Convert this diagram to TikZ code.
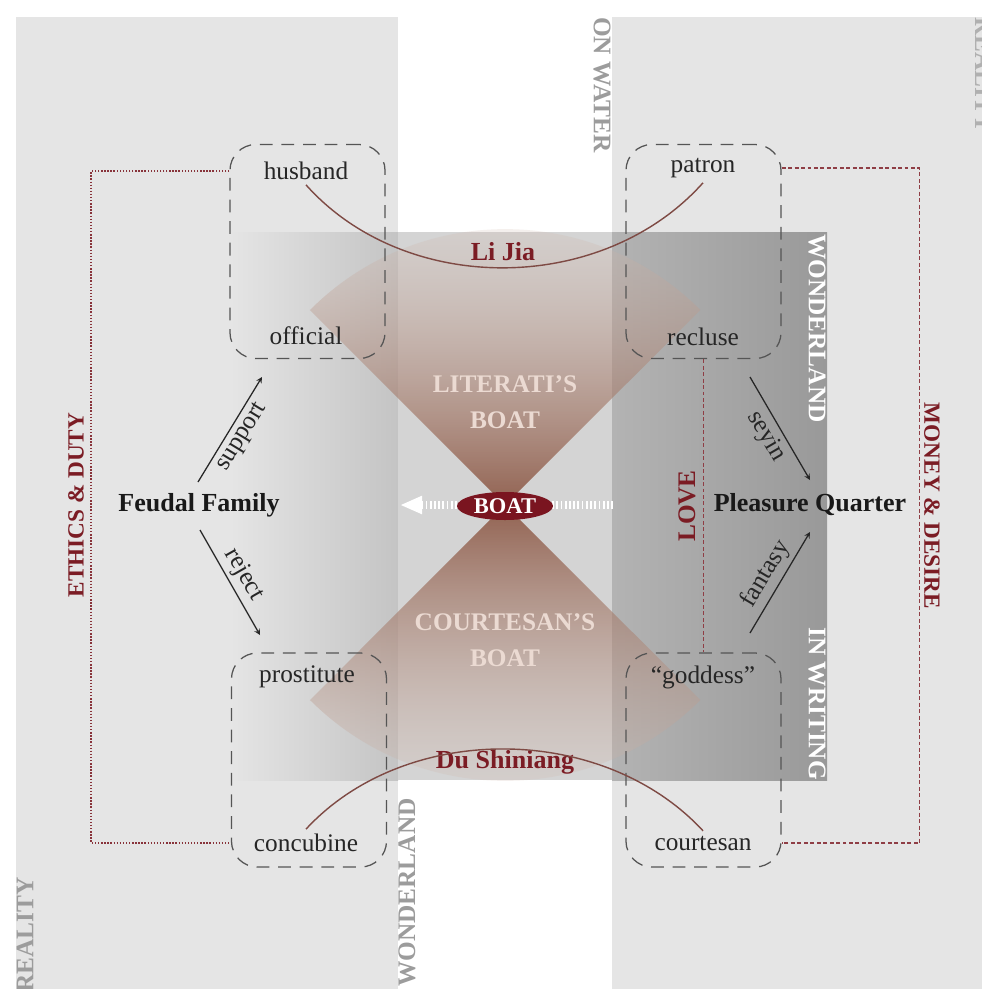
\documentclass[tikz,border=0pt]{standalone}
\usepackage{fontspec}
\setmainfont{Liberation Serif}
\usetikzlibrary{shapes.geometric, arrows, arrows.meta, fadings}

\definecolor{bandgray}{HTML}{E5E5E5}
\definecolor{labelgray}{HTML}{9C9C9C}
\definecolor{darkred}{HTML}{7B1C24}
\definecolor{boatred}{HTML}{7A1520}
\definecolor{fanlight}{HTML}{D8C4BA}
\definecolor{fandark}{HTML}{8A5542}
\definecolor{fantext}{HTML}{EBDAD2}
\definecolor{curvebrown}{HTML}{7E4A44}
\definecolor{boxgray}{HTML}{555555}
\definecolor{panelleft}{HTML}{C4C4C4}
\definecolor{panelmid}{HTML}{D4D4D4}
\definecolor{panelright}{HTML}{B3B3B3}
\definecolor{paneldeep}{HTML}{999999}

\tikzfading[name=fan top, top color=transparent!85, bottom color=transparent!10]
\tikzfading[name=fan bottom, top color=transparent!10, bottom color=transparent!85]

\tikzstyle{word} = [font=\fontsize{18}{22}\selectfont, text=black!85]
\tikzstyle{hub} = [font=\fontsize{18.5}{22}\selectfont\bfseries, text=black!90]
\tikzstyle{boatname} = [font=\fontsize{18}{26}\selectfont\bfseries, text=fantext, align=center]
\tikzstyle{pairbox} = [rectangle, rounded corners=0.65cm, minimum width=3.875cm, minimum height=5.35cm, draw=boxgray, line width=0.9pt, dash pattern=on 0.32cm off 0.22cm]
\tikzstyle{vlabel} = [font=\fontsize{18}{22}\selectfont\bfseries, inner sep=0pt]
\tikzstyle{arrow} = [line width=0.9pt, ->, >=stealth, black!85]
\tikzstyle{tag} = [font=\fontsize{18}{22}\selectfont, inner sep=3pt, sloped, midway]
\tikzstyle{ethicsline} = [darkred!90, line width=1.4pt, dash pattern=on 1pt off 1.2pt]
\tikzstyle{redline} = [darkred!85, line width=1pt, dash pattern=on 2.8pt off 1.8pt]
\tikzstyle{boatarrow} = [white, line width=0.19cm, dash pattern=on 1.3pt off 1.7pt, -{Triangle[length=0.55cm, width=0.42cm]}]

\begin{document}
\begin{tikzpicture}[x=0.025cm, y=-0.025cm]
    \useasboundingbox (0,0) rectangle (982,989);
    \clip (0,0) rectangle (982,989);

    % Backdrop: reality on both sides, water in the middle
    \fill[white] (0,0) rectangle (982,989);
    \fill[bandgray] (16,17) rectangle (398,989);
    \fill[bandgray] (612,17) rectangle (982,989);

    % Wonderland panel
    \shade[left color=bandgray, right color=panelleft] (230,232) rectangle (398,780);
    \fill[panelmid] (398,232) rectangle (612,780);
    \shade[left color=panelright, right color=paneldeep] (612,232) rectangle (827,780);

    % The two boats
    \shade[top color=fanlight, bottom color=fandark, path fading=fan top] (505,505) -- (310,310) arc[start angle=135, end angle=45, radius=6.9cm] -- cycle;
    \shade[top color=fandark, bottom color=fanlight, path fading=fan bottom] (505,505) -- (310,700) arc[start angle=225, end angle=315, radius=6.9cm] -- cycle;

    % Nodes
    \node (husband) [word] at (306,171) {husband};
    \node (official) [word] at (306,336) {official};
    \node (patron) [word] at (703,168) {patron};
    \node (recluse) [word] at (703,337) {recluse};
    \node (prostitute) [word] at (307,677) {prostitute};
    \node (concubine) [word] at (306,843) {concubine};
    \node (goddess) [word] at (703,677) {``goddess''};
    \node (courtesan) [word] at (703,843) {courtesan};

    \node (family) [hub] at (199,505) {Feudal Family};
    \node (quarter) [hub] at (810,505) {Pleasure Quarter};
    \node (lijia) [hub, text=darkred] at (503,252) {Li Jia};
    \node (dushiniang) [hub, text=darkred] at (505,762) {Du Shiniang};

    \node (literati) [boatname] at (505,402) {LITERATI’S\\BOAT};
    \node (courtesans) [boatname] at (505,640) {COURTESAN’S\\BOAT};

    \node (husband box) [pairbox] at (307.5,251.5) {};
    \node (patron box) [pairbox] at (703.5,251.5) {};
    \node (concubine box) [pairbox] at (309,760) {};
    \node (courtesan box) [pairbox] at (703.5,760) {};

    % Side labels
    \node (water) [vlabel, text=labelgray, rotate=-90, anchor=west] at (602,17) {ON WATER};
    \node (reality top) [vlabel, text=labelgray!80, rotate=-90, anchor=base west] at (975,17) {REALITY};
    \node (reality low) [vlabel, text=labelgray, rotate=90, anchor=west] at (25,993) {REALITY};
    \node (wonder low) [vlabel, text=labelgray, rotate=90, anchor=west] at (407,987) {WONDERLAND};
    \node (wonder) [vlabel, text=white, rotate=-90, anchor=west] at (817,234) {WONDERLAND};
    \node (writing) [vlabel, text=white, rotate=-90, anchor=west] at (817,627) {IN WRITING};
    \node (ethics) [vlabel, text=darkred, font=\fontsize{16.5}{20}\selectfont\bfseries, rotate=90] at (76,505) {ETHICS \& DUTY};
    \node (money) [vlabel, text=darkred, font=\fontsize{16.5}{20}\selectfont\bfseries, rotate=-90] at (932,506) {MONEY \& DESIRE};
    \node (love) [vlabel, text=darkred, rotate=90] at (687,506) {LOVE};

    % Couples
    \draw[curvebrown, line width=1pt] (husband.south) .. controls +(100,112) and +(-100,112) .. (patron.south);
    \draw[curvebrown, line width=1pt] (concubine.north) .. controls +(100,-108) and +(-100,-108) .. (courtesan.north);

    % Frames round the pairs
    \draw[ethicsline] (husband box.west |- husband) -- ++(-138,0) |- (concubine box.west |- concubine);
    \draw[redline] (patron box.east |- patron) -- ++(138,0) |- (courtesan box.east |- courtesan);
    \draw[redline] (patron box.south) -- (courtesan box.north);

    % Arrows
    \coordinate (support tail) at (198,482);
    \coordinate (support head) at (262,377);
    \coordinate (reject tail) at (200,530);
    \coordinate (reject head) at (260,635);
    \coordinate (seyin tail) at (750,377);
    \coordinate (seyin head) at (810,480);
    \coordinate (fantasy tail) at (750,633);
    \coordinate (fantasy head) at (810,532);
    \draw [arrow] (support tail) -- node[tag, below] {support} (support head);
    \draw [arrow] (reject tail) -- node[tag, above] {reject} (reject head);
    \draw [arrow] (seyin tail) -- node[tag, below] {seyin} (seyin head);
    \draw [arrow] (fantasy tail) -- node[tag, above] {fantasy} (fantasy head);

    % Boat crossing
    \coordinate (boat tail) at (613,505);
    \coordinate (boat head) at (400,505);
    \draw [boatarrow] (boat tail) -- (boat head);
    \node (boat) [ellipse, fill=boatred, text=white, font=\fontsize{16}{18}\selectfont\bfseries, minimum width=2.4cm, minimum height=0.7cm, inner sep=0pt] at (505,506) {BOAT};
\end{tikzpicture}
\end{document}
